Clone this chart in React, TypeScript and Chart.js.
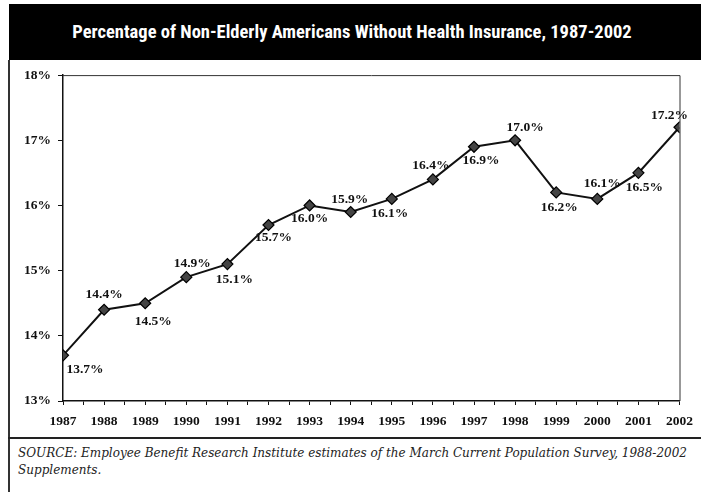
import React, { useEffect, useRef } from "react";
import { Chart, registerables } from "chart.js";

Chart.register(...registerables);

const TITLE = "Percentage of Non-Elderly Americans Without Health Insurance, 1987-2002";
const SOURCE_LINE1 =
  "SOURCE: Employee Benefit Research Institute estimates of the March Current Population Survey, 1988-2002";
const SOURCE_LINE2 = "Supplements.";

const YEARS = [1987, 1988, 1989, 1990, 1991, 1992, 1993, 1994, 1995, 1996, 1997, 1998, 1999, 2000, 2001, 2002];
const UNINSURED = [13.7, 14.4, 14.5, 14.9, 15.1, 15.7, 16.0, 15.9, 16.1, 16.4, 16.9, 17.0, 16.2, 16.1, 16.5, 17.2];
const Y_TICKS = [13, 14, 15, 16, 17, 18];

// label placement relative to each point (dx, dy of text centre), one per year
const LABEL_OFFSETS: [number, number][] = [
  [22, 14], [0, -15], [8, 18], [6, -14], [7, 15], [5, 13], [0, 13], [-1, -12],
  [-2, 15], [-2, -14], [7, 14], [10, -13], [3, 15], [5, -15], [6, 15], [-10, -12],
];

const SERIF = '"Liberation Serif", "Times New Roman", serif';

const labelPlugin = {
  id: "pointLabels",
  afterDatasetsDraw(chart: any) {
    const meta = chart.getDatasetMeta(0);
    const ctx = chart.ctx;
    ctx.save();
    ctx.font = `bold 13.5px ${SERIF}`;
    ctx.fillStyle = "#111";
    ctx.textAlign = "center";
    ctx.textBaseline = "middle";
    meta.data.forEach((el: any, i: number) => {
      const [dx, dy] = LABEL_OFFSETS[i];
      ctx.fillText(UNINSURED[i].toFixed(1) + "%", el.x + dx, el.y + dy);
    });
    ctx.restore();
  },
};

const framePlugin = {
  id: "plotFrame",
  beforeDatasetsDraw(chart: any) {
    const { ctx, chartArea } = chart;
    ctx.save();
    ctx.strokeStyle = "#333";
    ctx.lineWidth = 1;
    ctx.beginPath();
    ctx.moveTo(chartArea.left, chartArea.top + 0.5);
    ctx.lineTo(chartArea.right + 0.5, chartArea.top + 0.5);
    ctx.lineTo(chartArea.right + 0.5, chartArea.bottom);
    ctx.stroke();
    ctx.restore();
  },
};

export default function App() {
  const ref = useRef<HTMLCanvasElement | null>(null);

  useEffect(() => {
    if (!ref.current) return;
    const chart = new Chart(ref.current, {
      type: "line",
      data: {
        datasets: [
          {
            data: YEARS.map((y, i) => ({ x: y, y: UNINSURED[i] })),
            borderColor: "#111",
            borderWidth: 2,
            pointStyle: "rectRot",
            pointRadius: 5.5,
            pointBackgroundColor: "#444",
            pointBorderColor: "#000",
            pointBorderWidth: 1.2,
            tension: 0,
          },
        ],
      },
      options: {
        animation: false,
        responsive: false,
        devicePixelRatio: 1,
        layout: { padding: { top: 14, right: 16, left: 0, bottom: 0 } },
        plugins: { legend: { display: false }, tooltip: { enabled: false } },
        scales: {
          x: {
            type: "linear",
            min: YEARS[0],
            max: YEARS[YEARS.length - 1],
            afterFit: (s: any) => {
              s.height = 37;
            },
            afterBuildTicks: (s: any) => {
              const t = [];
              for (let v = YEARS[0]; v <= YEARS[YEARS.length - 1] + 0.001; v += 0.5) t.push({ value: v });
              s.ticks = t;
            },
            border: { color: "#111", width: 1.5 },
            grid: { drawOnChartArea: false, drawTicks: true, tickLength: 4, color: "#111", lineWidth: 1 },
            ticks: {
              autoSkip: false,
              maxRotation: 0,
              padding: 8,
              color: "#111",
              font: { family: SERIF, size: 13.5, weight: "bold" },
              callback: (v: any) => (Number.isInteger(v) ? String(v) : ""),
            },
          },
          y: {
            min: Y_TICKS[0],
            max: Y_TICKS[Y_TICKS.length - 1],
            afterFit: (s: any) => {
              s.width = 54;
            },
            afterBuildTicks: (s: any) => {
              s.ticks = Y_TICKS.map((v) => ({ value: v }));
            },
            border: { color: "#111", width: 1.5 },
            grid: { drawOnChartArea: false, drawTicks: true, tickLength: 5, color: "#111", lineWidth: 1 },
            ticks: {
              padding: 7,
              color: "#111",
              font: { family: SERIF, size: 13.5, weight: "bold" },
              callback: (v: any) => v + "%",
            },
          },
        },
      },
      plugins: [framePlugin, labelPlugin],
    } as any);
    return () => chart.destroy();
  }, []);

  return (
    <div
      style={{
        position: "fixed",
        left: 0,
        top: 0,
        width: 701,
        height: 492,
        background: "#fff",
        overflow: "hidden",
      }}
    >
      <div
        style={{
          position: "absolute",
          left: 9,
          top: 4,
          width: 692,
          height: 56,
          background: "#000",
          color: "#fff",
          display: "flex",
          alignItems: "center",
          justifyContent: "center",
          fontFamily: '"Liberation Sans Narrow", "Roboto Condensed", "DejaVu Sans Condensed", sans-serif',
          fontWeight: "bold",
          fontSize: 18.5,
          paddingRight: 6,
          boxSizing: "border-box",
        }}
      >
        {TITLE}
      </div>
      <div style={{ position: "absolute", left: 8, top: 60, width: 1.5, height: 432, background: "#333" }} />
      <div style={{ position: "absolute", left: 8, top: 437, width: 693, height: 1.5, background: "#222" }} />
      <canvas
        ref={ref}
        width={692}
        height={378}
        style={{ position: "absolute", left: 9, top: 60, width: 692, height: 378 }}
      />
      <div
        style={{
          position: "absolute",
          left: 18,
          top: 445,
          fontFamily: '"DejaVu Serif", serif',
          fontStyle: "italic",
          fontSize: 12,
          lineHeight: "17px",
          color: "#222",
          whiteSpace: "nowrap",
        }}
      >
        {SOURCE_LINE1}
        <br />
        {SOURCE_LINE2}
      </div>
    </div>
  );
}
